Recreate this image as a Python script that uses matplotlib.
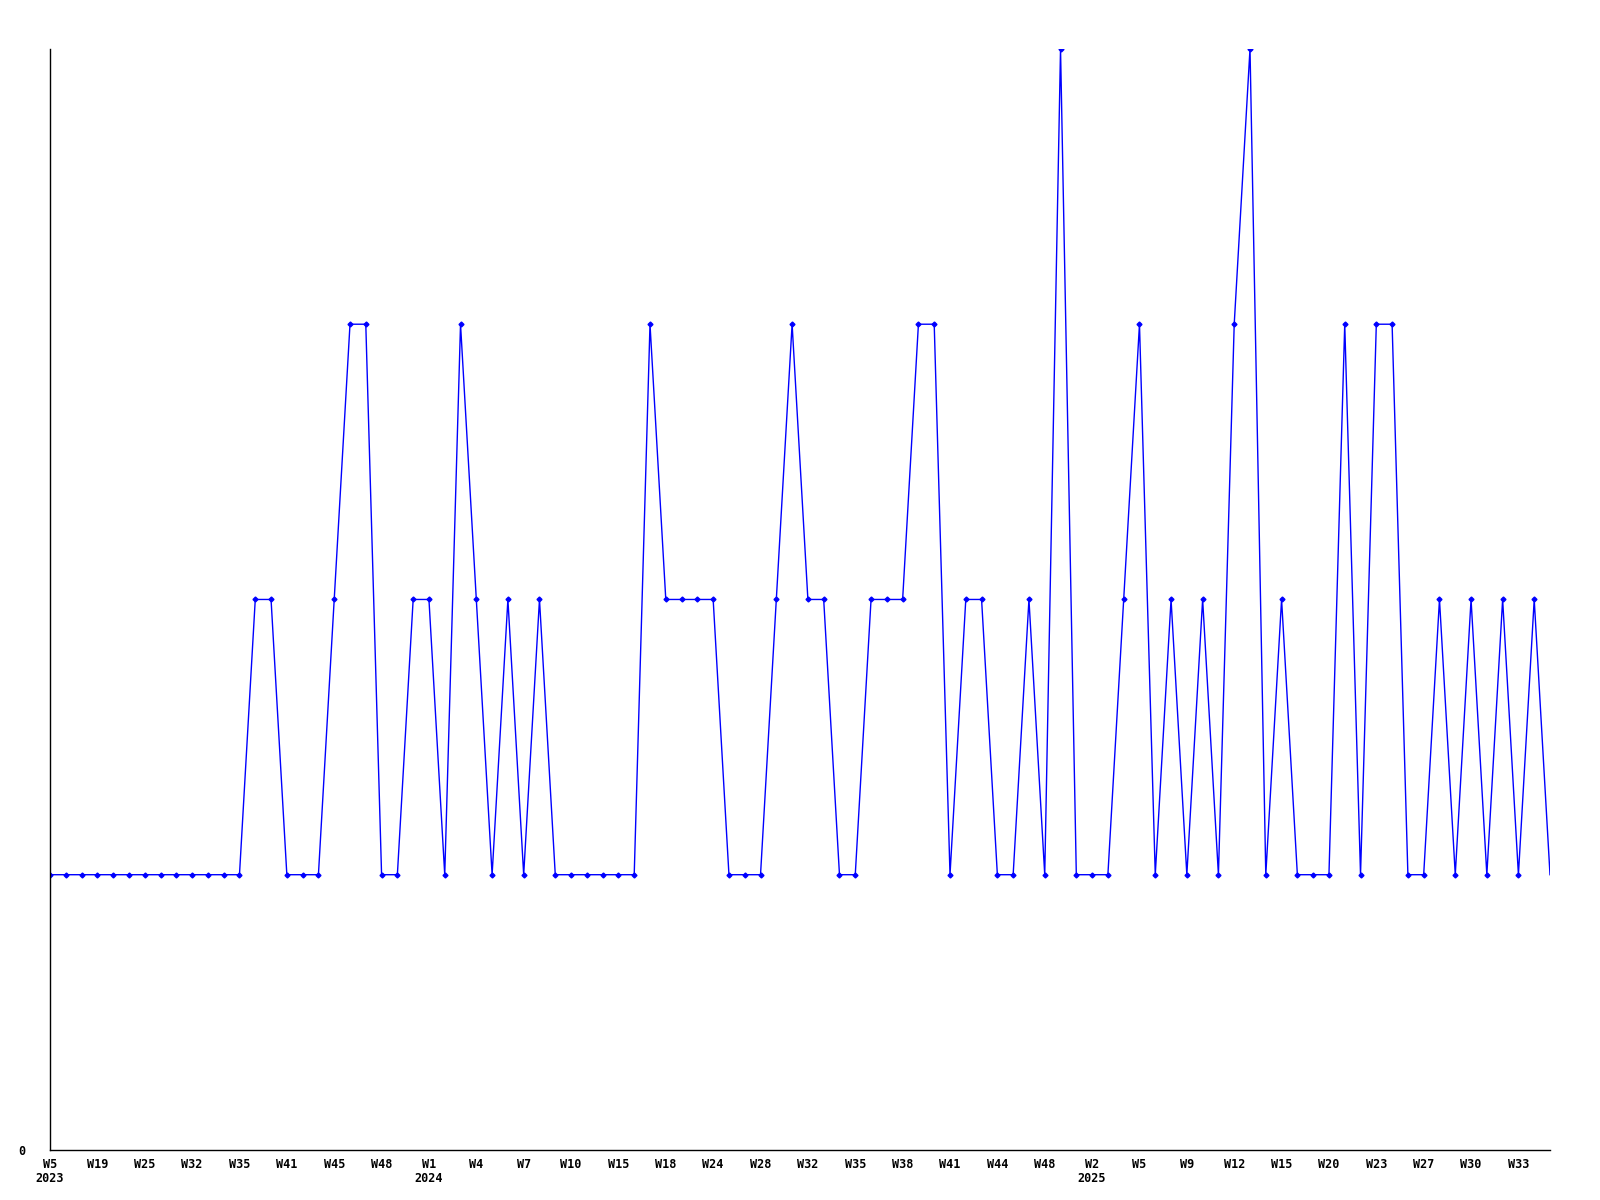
import matplotlib
matplotlib.use("Agg")
import matplotlib.pyplot as plt
import matplotlib.transforms as mtransforms

# weekly counts, one value per week shown
values = [1, 1, 1, 1, 1, 1, 1, 1, 1, 1, 1, 1, 1, 2, 2, 1, 1, 1, 2, 3,
          3, 1, 1, 2, 2, 1, 3, 2, 1, 2, 1, 2, 1, 1, 1, 1, 1, 1, 3, 2,
          2, 2, 2, 1, 1, 1, 2, 3, 2, 2, 1, 1, 2, 2, 2, 3, 3, 1, 2, 2,
          1, 1, 2, 1, 4, 1, 1, 1, 2, 3, 1, 2, 1, 2, 1, 3, 4, 1, 2, 1,
          1, 1, 3, 1, 3, 3, 1, 1, 2, 1, 2, 1, 2, 1, 2, 1]

# labels shown on every third week
week_labels = ["W5\n2023", "W19", "W25", "W32", "W35", "W41", "W45", "W48",
               "W1\n2024", "W4", "W7", "W10", "W15", "W18", "W24", "W28",
               "W32", "W35", "W38", "W41", "W44", "W48", "W2\n2025", "W5",
               "W9", "W12", "W15", "W20", "W23", "W27", "W30", "W33"]
label_step = 3

fig = plt.figure(figsize=(16, 12), dpi=100)
ax = fig.add_axes([0.03125, 0.0417, 0.9375, 0.9175])

x = list(range(len(values)))
ax.plot(x, values, color="#0000ff", linewidth=1.0, marker="D", markersize=2.5,
        markevery=list(range(len(values) - 1)))

ax.set_xlim(0, len(values) - 1)
ax.set_ylim(0, 4)

ax.set_xticks(x[::label_step])
ax.set_xticklabels(week_labels, fontfamily="DejaVu Sans Mono", fontweight="bold",
                   fontsize=8.5, linespacing=1.1)
# nudge labels a little to the left, as in the original
shift = mtransforms.ScaledTranslation(-4 / 100, 0, fig.dpi_scale_trans)
for lab in ax.get_xticklabels():
    lab.set_transform(lab.get_transform() + shift)

ax.set_yticks([0])
ax.set_yticklabels(["0"], fontfamily="DejaVu Sans Mono", fontweight="bold", fontsize=8.5)
ax.tick_params(axis="both", length=0)
ax.tick_params(axis="x", pad=6)
ax.tick_params(axis="y", pad=18)

for side in ["top", "right"]:
    ax.spines[side].set_visible(False)
for side in ["left", "bottom"]:
    ax.spines[side].set_linewidth(1)
    ax.spines[side].set_color("black")

fig.savefig("out.png", dpi=100)
